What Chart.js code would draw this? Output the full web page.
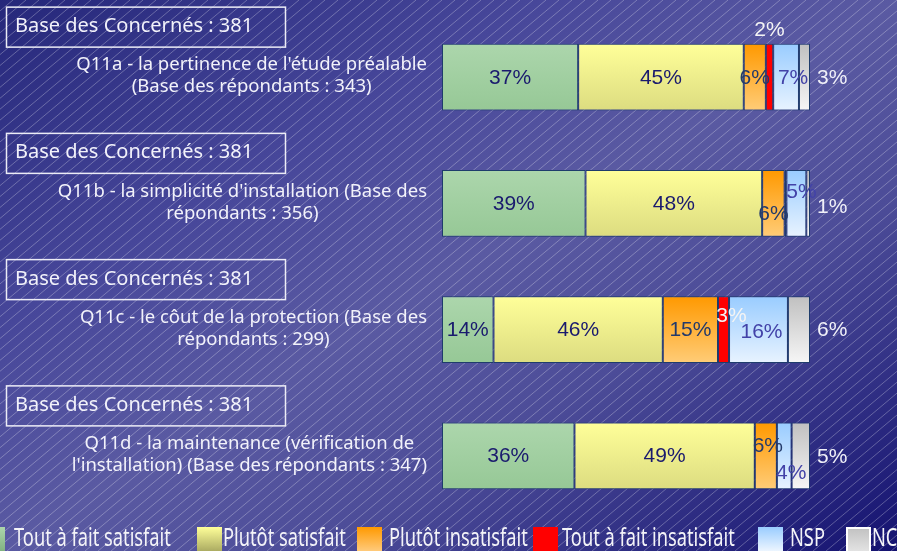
<!DOCTYPE html>
<html lang="fr">

<head>
    <meta charset="UTF-8">
    <title>Q11 - Satisfaction</title>
    <script src="https://cdn.jsdelivr.net/npm/chart.js"></script>
    <style>
        body { margin: 0; overflow: hidden; background: #3c3c8c; }
        canvas { display: block; }
    </style>
</head>

<body>
    <canvas id="chartCanvas" width="897" height="551"></canvas>

    <script>
        // categories (question labels, two lines each)
        const questions = [
            ["Q11a - la pertinence de l'étude préalable", "(Base des répondants : 343)"],
            ["Q11b - la simplicité d'installation (Base des", "répondants : 356)"],
            ["Q11c - le côut de la protection (Base des", "répondants : 299)"],
            ["Q11d - la maintenance (vérification de", "l'installation) (Base des répondants : 347)"]
        ];
        const baseLabels = ["Base des Concernés : 381", "Base des Concernés : 381", "Base des Concernés : 381", "Base des Concernés : 381"];

        // series, in %
        const seriesNames = ["Tout à fait satisfait", "Plutôt satisfait", "Plutôt insatisfait", "Tout à fait insatisfait", "NSP", "NC"];
        const toutSatisfait = [37, 39, 14, 36];
        const plutotSatisfait = [45, 48, 46, 49];
        const plutotInsatisfait = [6, 6.1, 15, 6];
        const toutInsatisfait = [2, 0.5, 3, 0];
        const nsp = [7, 5.4, 16, 4];
        const nc = [3, 1, 6, 5];

        // styles
        const barTop = ['#acd6ac', '#ffff99', '#ff9900', '#ff0000', '#99ccff', '#c0c0c0'];
        const barBottom = ['#96c896', '#dcdc80', '#ffcc77', '#ff0000', '#e8f3ff', '#f6f6f6'];
        const legendBottom = ['#80b080', '#a8a860', '#ffcc80', '#ff0000', '#f0f7ff', '#e4e4e4'];
        const labelColors = ['#1a1a6e', '#1a1a6e', '#233a6b', '#f4f4f4', '#4242a8', '#f0f0f8'];
        // small label shifts [dx, dy] so that overlapping labels stay readable
        const labelNudge = [
            [[0, 1], [0, 1], [0, 1], [0, 0]],
            [[0, 1], [0, 1], [0, 1], [0, 0]],
            [[0, 1], [0, 11], [0, 1], [2, -10]],
            [[0, -47], [0, 0], [8, -13], [0, 0]],
            [[7, 1], [5, -11], [3, 3], [7, 17]],
            [[0, 1], [0, 4], [0, 1], [0, 1]]
        ];
        const legendBoxX = [-20, 197, 357, 533, 758, 846];
        const legendTextX = [14, 223, 389, 562, 790, 872];

        const BAR_PCT = 0.527;
        const textFont = '"Noto Sans", "DejaVu Sans", sans-serif';

        function vGradient(i) {
            return function (context) {
                const chart = context.chart;
                if (!chart.chartArea || context.dataIndex === undefined) return barTop[i];
                const yScale = chart.scales.y;
                const y = yScale.getPixelForValue(context.dataIndex);
                const half = yScale.height / questions.length * BAR_PCT / 2;
                const g = chart.ctx.createLinearGradient(0, y - half, 0, y + half);
                g.addColorStop(0, barTop[i]);
                g.addColorStop(1, barBottom[i]);
                return g;
            };
        }

        const backgroundPlugin = {
            id: 'background',
            beforeDraw(chart) {
                const c = chart.ctx, w = chart.width, h = chart.height;
                c.save();
                // dark corners top-left / bottom-right, light band across the middle
                const g = c.createLinearGradient(203, -125, 694, 676);
                g.addColorStop(0, '#25277a');
                g.addColorStop(0.3, '#47479a');
                g.addColorStop(0.5, '#5a5aa2');
                g.addColorStop(0.68, '#4c4c98');
                g.addColorStop(1, '#141270');
                c.fillStyle = g;
                c.fillRect(0, 0, w, h);
                // thin diagonal hatching
                c.strokeStyle = 'rgba(255,255,255,0.28)';
                c.lineWidth = 1;
                c.beginPath();
                const run = h / 0.84;
                for (let x0 = -run; x0 < w + 13; x0 += 13) {
                    c.moveTo(x0, h);
                    c.lineTo(x0 + run, 0);
                }
                c.stroke();
                c.restore();
            }
        };

        const sideTextPlugin = {
            id: 'sideText',
            afterDraw(chart) {
                const c = chart.ctx;
                const yScale = chart.scales.y;
                c.save();
                c.fillStyle = '#f2f2fa';
                questions.forEach((lines, i) => {
                    const yc = yScale.getPixelForValue(i);
                    // question label, centered lines, right edge at 427
                    c.font = '18.5px ' + textFont;
                    c.textAlign = 'center';
                    c.textBaseline = 'middle';
                    const widest = Math.max(...lines.map(l => c.measureText(l).width));
                    const xc = chart.chartArea.left - 15 - widest / 2;
                    lines.forEach((l, k) => {
                        c.fillText(l, xc, yc - 1 + (k - (lines.length - 1) / 2) * 22);
                    });
                    // "Base des Concernés" box
                    const top = yc - 70;
                    c.strokeStyle = '#ececf6';
                    c.lineWidth = 1.5;
                    c.strokeRect(6.5, top, 279, 40);
                    c.font = '20px ' + textFont;
                    c.textAlign = 'left';
                    c.textBaseline = 'alphabetic';
                    c.fillText(baseLabels[i], 15, top + 25);
                });
                c.restore();
            }
        };

        const valueLabelPlugin = {
            id: 'valueLabels',
            afterDatasetsDraw(chart) {
                const c = chart.ctx;
                const last = chart.data.datasets.length - 1;
                c.save();
                c.font = '21px "Liberation Sans", Arial, sans-serif';
                c.textBaseline = 'middle';
                chart.data.datasets.forEach((ds, i) => {
                    const meta = chart.getDatasetMeta(i);
                    ds.data.forEach((v, j) => {
                        if (v < 1) return;
                        const bar = meta.data[j];
                        const [dx, dy] = labelNudge[i][j];
                        let x;
                        if (i === last) {
                            c.textAlign = 'left';
                            x = bar.x + 7;
                        } else {
                            c.textAlign = 'center';
                            x = (bar.x + bar.base) / 2;
                        }
                        c.fillStyle = labelColors[i];
                        c.fillText(Math.round(v) + '%', x + dx, bar.y + dy);
                    });
                });
                c.restore();
            }
        };

        const legendPlugin = {
            id: 'bottomLegend',
            afterDraw(chart) {
                const c = chart.ctx;
                c.save();
                seriesNames.forEach((name, i) => {
                    const bx = legendBoxX[i], by = 527;
                    const g = c.createLinearGradient(0, by, 0, by + 25);
                    g.addColorStop(0, barTop[i]);
                    g.addColorStop(1, legendBottom[i]);
                    c.fillStyle = g;
                    c.fillRect(bx, by, 25, 25);
                    if (i === seriesNames.length - 1) {
                        c.strokeStyle = '#ffffff';
                        c.lineWidth = 2;
                        c.strokeRect(bx + 1, by + 1, 23, 26);
                    }
                    // condensed text
                    c.save();
                    c.translate(legendTextX[i], 546);
                    c.scale(0.73, 1);
                    c.font = '25px ' + textFont;
                    c.fillStyle = '#f4f4f8';
                    c.textAlign = 'left';
                    c.textBaseline = 'alphabetic';
                    c.fillText(name, 0, 0);
                    c.restore();
                });
                c.restore();
            }
        };

        function plotData() {
            const ctx = document.getElementById('chartCanvas').getContext('2d');
            const values = [toutSatisfait, plutotSatisfait, plutotInsatisfait, toutInsatisfait, nsp, nc];

            new Chart(ctx, {
                type: 'bar',
                data: {
                    labels: questions,
                    datasets: seriesNames.map((name, i) => ({
                        label: name,
                        data: values[i],
                        backgroundColor: vGradient(i),
                        borderColor: '#1e3c6c',
                        borderWidth: 1,
                        borderSkipped: false,
                        barPercentage: BAR_PCT,
                        categoryPercentage: 1
                    }))
                },
                options: {
                    indexAxis: 'y',
                    responsive: false,
                    animation: false,
                    layout: {
                        padding: { left: 442, right: 87, top: 14, bottom: 32 }
                    },
                    scales: {
                        x: { stacked: true, min: 0, max: 100, display: false },
                        y: { stacked: true, display: false }
                    },
                    plugins: {
                        legend: { display: false },
                        tooltip: { enabled: false }
                    }
                },
                plugins: [backgroundPlugin, valueLabelPlugin, sideTextPlugin, legendPlugin]
            });
        }

        Promise.all([
            document.fonts.load('20px "Noto Sans"'),
            document.fonts.load('21px "Liberation Sans"')
        ]).then(plotData, plotData);
    </script>

</body>

</html>
